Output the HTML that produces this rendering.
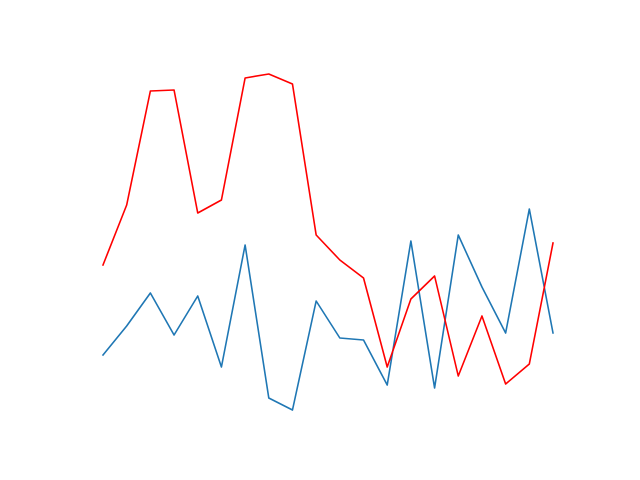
<!DOCTYPE html>
<html>
<head>
<meta charset="utf-8">
<style>
  html,body{margin:0;padding:0;background:#fff;}
  svg{display:block;}
</style>
</head>
<body>
<svg id="chart" width="640" height="480" viewBox="0 0 640 480" xmlns="http://www.w3.org/2000/svg">
  <rect x="0" y="0" width="640" height="480" fill="#ffffff"/>
</svg>
<script>
const categories = [0,1,2,3,4,5,6,7,8,9,10,11,12,13,14,15,16,17,18,19];
const blueValues = [125,154,187,145,184,113,235,82,70,179,142,140,95,239,92,245,193,147,271,147];
const redValues = [215,275,389,390,267,280,402,406,396,245,220,202,113,181,204,104,164,96,116,237];

const xMin = 0, xMax = 19, pxLeft = 103, pxRight = 553;
function xScale(v){ return pxLeft + (v - xMin) / (xMax - xMin) * (pxRight - pxLeft); }
function yScale(v){ return 480 - v; }

const svg = document.getElementById('chart');
const NS = 'http://www.w3.org/2000/svg';
function drawLine(values, color, name){
  const p = document.createElementNS(NS, 'polyline');
  p.setAttribute('points', values.map((v,i)=>xScale(categories[i]).toFixed(2)+','+yScale(v).toFixed(2)).join(' '));
  p.setAttribute('fill', 'none');
  p.setAttribute('stroke', color);
  p.setAttribute('stroke-width', '1.6');
  p.setAttribute('stroke-linejoin', 'round');
  p.setAttribute('stroke-linecap', 'square');
  
  
  svg.appendChild(p);
}
drawLine(blueValues, '#1f77b4', 'blue-series-line');
drawLine(redValues, '#ff0000', 'red-series-line');
</script>
</body>
</html>
